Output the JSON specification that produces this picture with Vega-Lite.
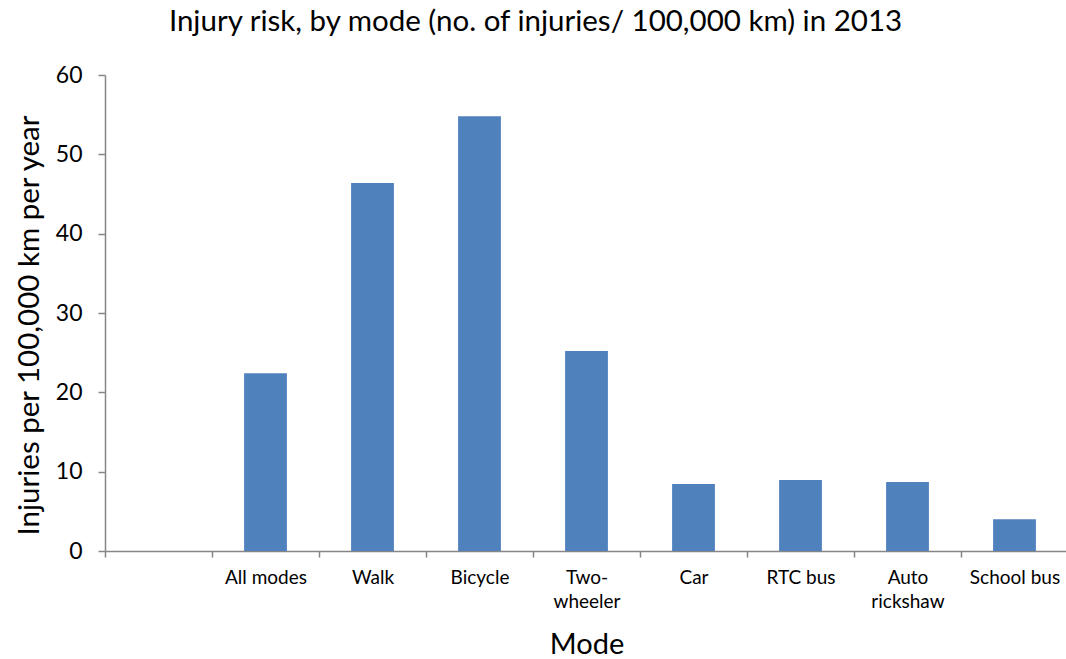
{
  "$schema": "https://vega.github.io/schema/vega-lite/v6.json",
  "autosize": {"type": "none"},
  "width": 963,
  "height": 476,
  "padding": {"left": 105, "top": 75, "right": 0, "bottom": 108},
  "background": "white",
  "config": {
    "font": "Lato",
    "view": {"stroke": null}
  },
  "title": {
    "text": "Injury risk, by mode (no. of injuries/ 100,000 km) in 2013",
    "fontSize": 29.5,
    "fontWeight": "normal",
    "color": "#000000",
    "anchor": "middle",
    "frame": "group",
    "dx": -51,
    "offset": 27
  },
  "data": {
    "values": [
      {"mode": "", "risk": null},
      {"mode": "All modes", "risk": 22.4},
      {"mode": "Walk", "risk": 46.4},
      {"mode": "Bicycle", "risk": 54.8},
      {"mode": "Two-wheeler", "risk": 25.2},
      {"mode": "Car", "risk": 8.45},
      {"mode": "RTC bus", "risk": 8.95},
      {"mode": "Auto rickshaw", "risk": 8.7},
      {"mode": "School bus", "risk": 4.0}
    ]
  },
  "mark": {"type": "bar", "color": "#4F81BD", "width": {"band": 0.4}},
  "encoding": {
    "x": {
      "field": "mode",
      "type": "nominal",
      "sort": null,
      "scale": {"paddingInner": 0, "paddingOuter": 0, "domain": ["", "All modes", "Walk", "Bicycle", "Two-wheeler", "Car", "RTC bus", "Auto rickshaw", "School bus"]},
      "axis": {
        "title": "Mode",
        "titleFontSize": 29,
        "titleFontWeight": "normal",
        "titleColor": "#000000",
        "titlePadding": 19,
        "labelAngle": 0,
        "labelFontSize": 19,
        "labelColor": "#000000",
        "labelPadding": 11,
        "labelLineHeight": 24,
        "labelExpr": "datum.value == 'Two-wheeler' ? ['Two-', 'wheeler'] : datum.value == 'Auto rickshaw' ? ['Auto', 'rickshaw'] : datum.value",
        "tickBand": "extent",
        "domainColor": "#868686",
        "domainWidth": 1.5,
        "tickColor": "#868686",
        "tickWidth": 1.5,
        "tickSize": 6,
        "grid": false
      }
    },
    "y": {
      "field": "risk",
      "type": "quantitative",
      "scale": {"domain": [0, 60], "nice": false},
      "axis": {
        "title": "Injuries per 100,000 km per year",
        "titleFontSize": 29.5,
        "titleFontWeight": "normal",
        "titleColor": "#000000",
        "titlePadding": 11,
        "titleY": 250,
        "values": [0, 10, 20, 30, 40, 50, 60],
        "labelFontSize": 23,
        "labelColor": "#000000",
        "labelPadding": 16,
        "domainColor": "#868686",
        "domainWidth": 1.5,
        "tickColor": "#868686",
        "tickWidth": 1.5,
        "tickSize": 7,
        "grid": false
      }
    }
  }
}
